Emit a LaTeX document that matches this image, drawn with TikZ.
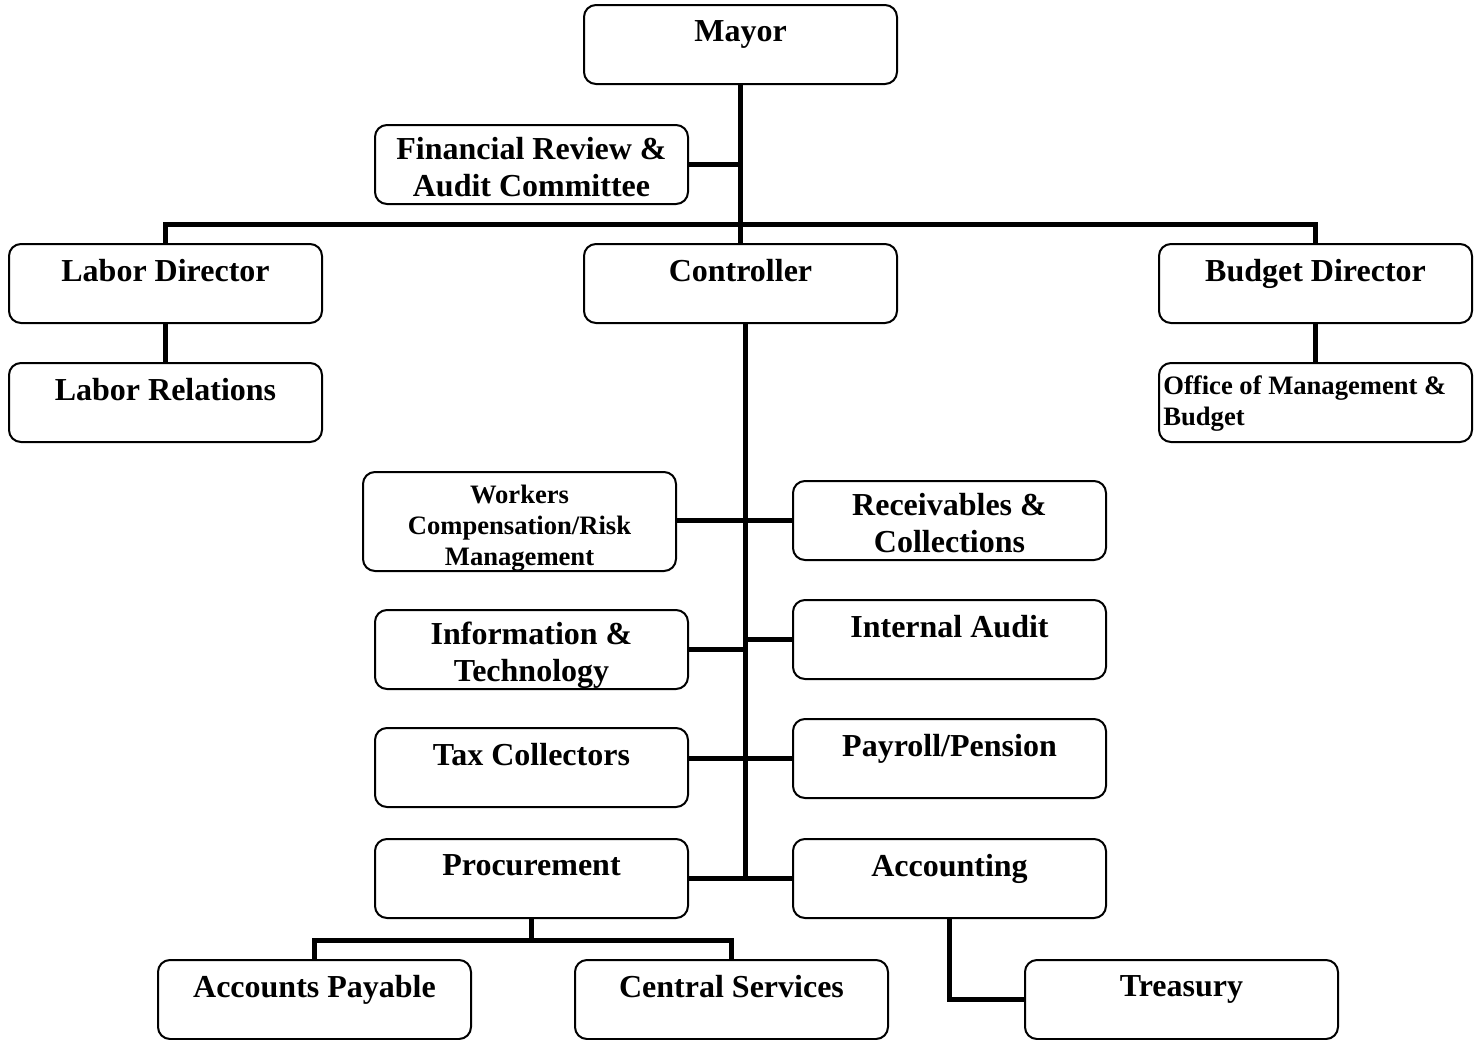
\documentclass[tikz,border=0pt]{standalone}
\usepackage{fontspec}
\setmainfont{Liberation Serif}
\usetikzlibrary{positioning}

\begin{document}
\begin{tikzpicture}[
    x=0.5pt, y=-0.5pt,
    box/.style={draw, line width=1pt, rounded corners=6pt, minimum width=156.5pt, minimum height=39.5pt, inner sep=0pt},
    tallbox/.style={box, minimum height=49.5pt},
    big/.style={font=\fontsize{16}{18.5}\selectfont\bfseries, align=center, inner sep=0pt},
    small/.style={font=\fontsize{13.3}{15.5}\selectfont\bfseries, align=center, inner sep=0pt},
    link/.style={line width=2.5pt}
]
\useasboundingbox (0,0) rectangle (1480,1040);

% top levels
\node[box] (mayor) at (740.5,44.5) {};
\node[big, below=8pt of mayor.north] (mayor-t) {Mayor};
\node[box] (finrev) at (531.5,164.5) {};
\node[big, below=6.5pt of finrev.north] (finrev-t) {Financial Review \&\\Audit Committee};
\node[box] (labdir) at (165.5,283.5) {};
\node[big, below=8pt of labdir.north] (labdir-t) {Labor Director};
\node[box] (ctrl) at (740.5,283.5) {};
\node[big, below=8pt of ctrl.north] (ctrl-t) {Controller};
\node[box] (budget) at (1315.5,283.5) {};
\node[big, below=8pt of budget.north] (budget-t) {Budget Director};
\node[box] (labrel) at (165.5,402.5) {};
\node[big, below=8pt of labrel.north] (labrel-t) {Labor Relations};
\node[box] (omb) at (1315.5,402.5) {};
\node[small, align=left, below right=6.5pt and 2.5pt of omb.north west] (omb-t) {Office of Management \&\\Budget};

% controller units
\node[tallbox] (wcomp) at (519.5,521.5) {};
\node[small, below=7pt of wcomp.north] (wcomp-t) {Workers\\Compensation/Risk\\Management};
\node[box] (recv) at (949.5,520.5) {};
\node[big, below=6.5pt of recv.north] (recv-t) {Receivables \&\\Collections};
\node[box] (info) at (531.5,649.5) {};
\node[big, below=6.5pt of info.north] (info-t) {Information \&\\Technology};
\node[box] (audit) at (949.5,639.5) {};
\node[big, below=8pt of audit.north] (audit-t) {Internal Audit};
\node[box] (tax) at (531.5,767.5) {};
\node[big, below=8pt of tax.north] (tax-t) {Tax Collectors};
\node[box] (payroll) at (949.5,758.5) {};
\node[big, below=8pt of payroll.north] (payroll-t) {Payroll/Pension};
\node[box] (proc) at (531.5,878.5) {};
\node[big, below=8pt of proc.north] (proc-t) {Procurement};
\node[box] (acct) at (949.5,878.5) {};
\node[big, below=8pt of acct.north] (acct-t) {Accounting};
\node[box] (ap) at (314.5,999.5) {};
\node[big, below=8pt of ap.north] (ap-t) {Accounts Payable};
\node[box] (cs) at (731.5,999.5) {};
\node[big, below=8pt of cs.north] (cs-t) {Central Services};
\node[box] (treas) at (1181.5,999.5) {};
\node[big, below=8pt of treas.north] (treas-t) {Treasury};

% connectors
\coordinate (bar) at (740.5,224);
\coordinate (spine) at (745,880);
\coordinate (pbar) at (531.5,940);
\draw[link] (mayor.south) -- (ctrl.north);
\draw[link] (finrev.east) -- (finrev.east -| mayor.south);
\draw[link] (labdir.north) |- (bar) -| (budget.north);
\draw[link] (labdir.south) -- (labrel.north);
\draw[link] (budget.south) -- (omb.north);
\draw[link] (ctrl.south -| spine) -- (spine);
\draw[link] (recv.west -| wcomp.east) -- (recv.west);
\draw[link] (info.east) -- (info.east -| spine);
\draw[link] (audit.west) -- (audit.west -| spine);
\draw[link] (payroll.west) -- (payroll.west -| tax.east);
\draw[link] (proc.east) -- (acct.west);
\draw[link] (proc.south) -- (pbar);
\draw[link] (ap.north) |- (pbar) -| (cs.north);
\draw[link] (acct.south) |- (treas.west);
\end{tikzpicture}
\end{document}
